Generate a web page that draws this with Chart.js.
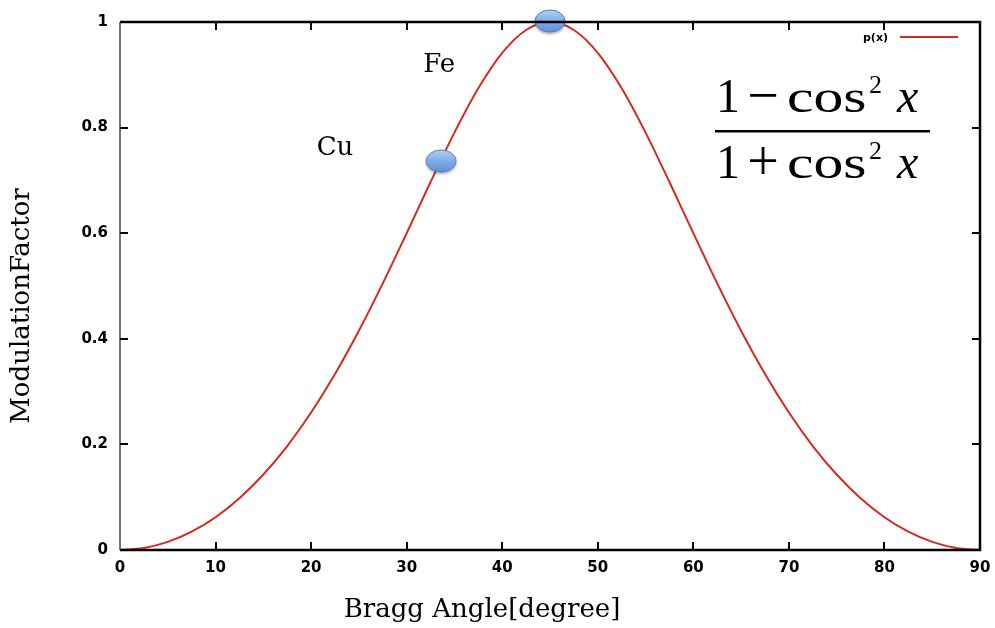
<!DOCTYPE html>
<html>
<head>
<meta charset="utf-8">
<script src="https://cdn.jsdelivr.net/npm/chart.js@4/dist/chart.umd.min.js"></script>
<style>
  html, body { margin: 0; padding: 0; background: #fff; }
  #wrap { width: 995px; height: 628px; }
</style>
</head>
<body>
<div id="wrap"><canvas id="modChart" width="995" height="628"></canvas></div>
<script>
// Bragg angle (degrees) and modulation factor
const angles = [0, 2.5, 5, 7.5, 10, 12.5, 15, 17.5, 20, 22.5, 25, 27.5, 30, 32.5, 35, 37.5, 40, 42.5, 45,
  47.5, 50, 52.5, 55, 57.5, 60, 62.5, 65, 67.5, 70, 72.5, 75, 77.5, 80, 82.5, 85, 87.5, 90];
const modulation = [0, 0.0038, 0.0153, 0.0347, 0.0621, 0.0981, 0.1429, 0.1969, 0.2604, 0.3333, 0.4152, 0.5049, 0.6, 0.6969, 0.7905, 0.8744, 0.9415, 0.9849, 1,
  0.9849, 0.9415, 0.8744, 0.7905, 0.6969, 0.6, 0.5049, 0.4152, 0.3333, 0.2604, 0.1969, 0.1429, 0.0981, 0.0621, 0.0347, 0.0153, 0.0038, 0];

// marked elements
const metals = ['Cu', 'Fe'];
const metalAngles = [33.6, 45];
const metalFactors = [0.735, 1.0];

const xTicks = [0, 10, 20, 30, 40, 50, 60, 70, 80, 90];
const yTicks = [0, 0.2, 0.4, 0.6, 0.8, 1];

const SERIF = '"DejaVu Serif", "Liberation Serif", serif';
const TIMES = '"Liberation Serif", serif';
const SANS = '"DejaVu Sans", Arial, sans-serif';

// blue oval marker
function makeMarker() {
  const c = document.createElement('canvas');
  c.width = 38; c.height = 30;
  const g = c.getContext('2d');
  g.save();
  g.shadowColor = 'rgba(0,0,0,0.35)';
  g.shadowBlur = 3;
  g.shadowOffsetY = 2;
  g.beginPath();
  g.ellipse(19, 14, 15, 11, 0, 0, Math.PI * 2);
  const grad = g.createLinearGradient(0, 3, 0, 25);
  grad.addColorStop(0, '#b3d0f4');
  grad.addColorStop(0.5, '#80ade9');
  grad.addColorStop(1, '#5e91d8');
  g.fillStyle = grad;
  g.fill();
  g.restore();
  g.beginPath();
  g.ellipse(19, 14, 15, 11, 0, 0, Math.PI * 2);
  g.strokeStyle = '#4f80c2';
  g.lineWidth = 1;
  g.stroke();
  return c;
}

const frame = {
  id: 'frame',
  afterDatasetsDraw(chart) {
    const { ctx, chartArea: a, scales: { x, y } } = chart;
    ctx.save();
    // box
    ctx.strokeStyle = '#000';
    ctx.lineWidth = 2.5;
    ctx.beginPath();
    ctx.moveTo(a.left, a.top); ctx.lineTo(a.right, a.top); ctx.lineTo(a.right, a.bottom); ctx.lineTo(a.left, a.bottom);
    ctx.stroke();
    ctx.strokeStyle = '#444';
    ctx.lineWidth = 1.5;
    ctx.beginPath();
    ctx.moveTo(a.left, a.top); ctx.lineTo(a.left, a.bottom);
    ctx.stroke();
    // inward ticks on all four sides
    ctx.strokeStyle = '#000';
    ctx.lineWidth = 2;
    ctx.beginPath();
    xTicks.slice(1, -1).forEach(v => {
      const px = Math.round(x.getPixelForValue(v));
      ctx.moveTo(px, a.bottom); ctx.lineTo(px, a.bottom - 8);
      ctx.moveTo(px, a.top); ctx.lineTo(px, a.top + 8);
    });
    yTicks.slice(1, -1).forEach(v => {
      const py = Math.round(y.getPixelForValue(v));
      ctx.moveTo(a.left, py); ctx.lineTo(a.left + 8, py);
      ctx.moveTo(a.right, py); ctx.lineTo(a.right - 8, py);
    });
    ctx.stroke();
    ctx.restore();
  },
  afterDraw(chart) {
    const { ctx, scales: { x, y } } = chart;
    ctx.save();
    ctx.fillStyle = '#000';

    // axis titles
    ctx.font = '26px ' + SERIF;
    ctx.textAlign = 'center';
    ctx.textBaseline = 'middle';
    ctx.fillText('Bragg Angle[degree]', 482, 610);
    ctx.save();
    ctx.translate(22, 306);
    ctx.rotate(-Math.PI / 2);
    ctx.fillText('ModulationFactor', 0, 0);
    ctx.restore();

    // element labels
    ctx.fillText('Cu', x.getPixelForValue(22.5), y.getPixelForValue(0.76));
    ctx.fillText('Fe', x.getPixelForValue(33.4), y.getPixelForValue(0.918));

    // legend
    ctx.font = 'bold 11px ' + SANS;
    ctx.textAlign = 'right';
    ctx.fillText('p(x)', 888, 38);
    ctx.strokeStyle = '#d42a20';
    ctx.lineWidth = 2;
    ctx.beginPath();
    ctx.moveTo(900, 37); ctx.lineTo(958, 37);
    ctx.stroke();

    // formula (1 - cos^2 x) / (1 + cos^2 x)
    const drawRow = (sign, base) => {
      ctx.textBaseline = 'alphabetic';
      ctx.font = '48px ' + TIMES;
      ctx.textAlign = 'left';
      ctx.fillText('1', 716, base);
      ctx.textAlign = 'center';
      ctx.font = '56px ' + TIMES;
      ctx.fillText(sign, 763, base + 2);
      ctx.textAlign = 'left';
      ctx.font = '47px ' + TIMES;
      // the cosine is set a little wide
      ctx.save();
      ctx.translate(787, base);
      ctx.scale(1.27, 1);
      ctx.fillText('cos', 0, 0);
      ctx.restore();
      ctx.font = '26px ' + TIMES;
      ctx.fillText('2', 869, base - 19);
      ctx.font = 'italic 48px ' + TIMES;
      ctx.fillText('x', 897, base);
    };
    drawRow('\u2212', 112);
    drawRow('+', 178);
    ctx.fillRect(715, 130, 215, 2.5);
    ctx.restore();
  }
};

new Chart(document.getElementById('modChart'), {
  type: 'line',
  data: {
    datasets: [{
      label: 'p(x)',
      data: angles.map((a, i) => ({ x: a, y: modulation[i] })),
      borderColor: '#d42a20',
      borderWidth: 2,
      pointRadius: 0,
      cubicInterpolationMode: 'monotone',
      fill: false,
      order: 2
    }, {
      label: 'elements',
      data: metalAngles.map((a, i) => ({ x: a, y: metalFactors[i] })),
      showLine: false,
      pointStyle: makeMarker(),
      pointRadius: 15,
      clip: false,
      order: 1
    }]
  },
  options: {
    responsive: false,
    animation: false,
    layout: { autoPadding: false, padding: { left: 0, top: 22, right: 15, bottom: 0 } },
    plugins: { legend: { display: false }, tooltip: { enabled: false } },
    scales: {
      x: {
        type: 'linear', min: 0, max: 90,
        afterFit: s => { s.height = 78; s.paddingLeft = 0; s.paddingRight = 0; },
        afterBuildTicks: s => { s.ticks = xTicks.map(v => ({ value: v })); },
        grid: { display: false, drawTicks: false },
        border: { display: false },
        ticks: { padding: 9, color: '#000', font: { family: SANS, size: 15, weight: 'bold' }, maxRotation: 0,
          callback: v => String(v) }
      },
      y: {
        min: 0, max: 1,
        afterFit: s => { s.width = 120; s.paddingTop = 0; s.paddingBottom = 0; },
        afterBuildTicks: s => { s.ticks = yTicks.map(v => ({ value: v })); },
        grid: { display: false, drawTicks: false },
        border: { display: false },
        ticks: { padding: 12, color: '#000', font: { family: SANS, size: 15, weight: 'bold' },
          callback: v => String(v) }
      }
    }
  },
  plugins: [frame]
});
</script>
</body>
</html>
